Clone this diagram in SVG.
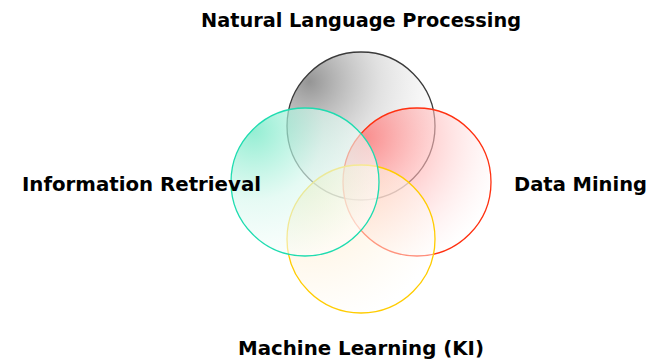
<svg xmlns="http://www.w3.org/2000/svg" width="655" height="359" viewBox="0 0 655 359">
<style>
.lbl{font-family:"DejaVu Sans",Verdana,sans-serif;font-weight:bold;font-size:19.5px;fill:#000}
.c{stroke-width:1.3}
</style>
<defs>
<radialGradient id="gGray" cx="0.15" cy="0.2" r="0.95">
<stop offset="0" stop-color="#7a7a7a" stop-opacity="0.8"/>
<stop offset="0.5" stop-color="#c8c8c8" stop-opacity="0.55"/>
<stop offset="1" stop-color="#ffffff" stop-opacity="0.3"/>
</radialGradient>
<radialGradient id="gRed" cx="0.15" cy="0.2" r="0.95">
<stop offset="0" stop-color="#ff7878" stop-opacity="0.8"/>
<stop offset="0.5" stop-color="#ffbcbc" stop-opacity="0.6"/>
<stop offset="1" stop-color="#ffffff" stop-opacity="0.3"/>
</radialGradient>
<radialGradient id="gTeal" cx="0.15" cy="0.15" r="0.95">
<stop offset="0" stop-color="#70e8c4" stop-opacity="0.75"/>
<stop offset="0.5" stop-color="#d8f8ee" stop-opacity="0.65"/>
<stop offset="1" stop-color="#ffffff" stop-opacity="0.55"/>
</radialGradient>
<radialGradient id="gYel" cx="0.15" cy="0.15" r="0.95">
<stop offset="0" stop-color="#f8e090" stop-opacity="0.6"/>
<stop offset="0.5" stop-color="#fff2dc" stop-opacity="0.55"/>
<stop offset="1" stop-color="#ffffff" stop-opacity="0.45"/>
</radialGradient>
</defs>
<g id="nlp"><circle class="c" cx="361" cy="126" r="74" fill="url(#gGray)" stroke="#3a3a3a"/></g>
<g id="dm"><circle class="c" cx="417" cy="182" r="74" fill="url(#gRed)" stroke="#ff3010"/></g>
<g id="ml"><circle class="c" cx="361" cy="239" r="74" fill="url(#gYel)" stroke="#ffcc00"/></g>
<g id="ir"><circle class="c" cx="305" cy="182" r="74" fill="url(#gTeal)" stroke="#1edcb0"/></g>
<g id="labels">
<text class="lbl" x="361" y="27" text-anchor="middle" textLength="320" lengthAdjust="spacingAndGlyphs">Natural Language Processing</text>
<text class="lbl" x="22" y="191" textLength="239" lengthAdjust="spacingAndGlyphs">Information Retrieval</text>
<text class="lbl" x="514" y="191" textLength="133" lengthAdjust="spacingAndGlyphs">Data Mining</text>
<text class="lbl" x="361" y="355" text-anchor="middle" textLength="246" lengthAdjust="spacingAndGlyphs">Machine Learning (KI)</text>
</g>
</svg>
